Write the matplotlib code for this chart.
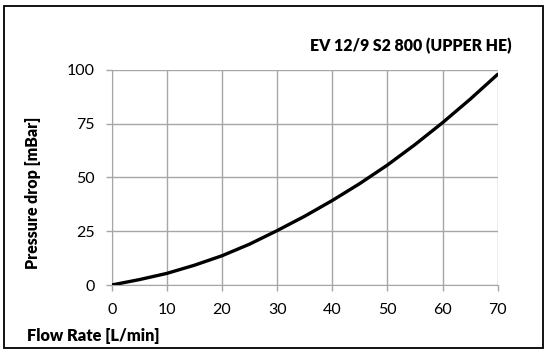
import matplotlib
matplotlib.use("Agg")
import matplotlib.pyplot as plt
from matplotlib.patches import Rectangle

# flow rate [L/min] vs pressure drop [mBar]
flow = [0, 5, 10, 15, 20, 25, 30, 35, 40, 45, 50, 55, 60, 65, 70]
dp = [0, 2.5, 5.4, 9.2, 13.6, 19.0, 25.3, 32.0, 39.3, 47.2, 55.8, 65.3, 75.5, 86.4, 98.0]

title = "EV 12/9 S2 800 (UPPER HE)"
xlabel = "Flow Rate [L/min]"
ylabel = "Pressure drop [mBar]"
xticks = [0, 10, 20, 30, 40, 50, 60, 70]
yticks = [0, 25, 50, 75, 100]

plt.rcParams['font.family'] = ['Lato', 'DejaVu Sans']

fig = plt.figure(figsize=(5.47, 3.58), dpi=100)
ax = fig.add_axes([0.2042, 0.2039, 0.7057, 0.6006])

grey = "#a6a6a6"
ax.plot(flow, dp, color="black", lw=2.4, solid_capstyle="round", zorder=3)

ax.set_xlim(0, 70)
ax.set_ylim(0, 100)
ax.set_xticks(xticks)
ax.set_yticks(yticks)
ax.grid(True, color=grey, lw=1.0)
ax.set_axisbelow(True)
for s in ax.spines.values():
    s.set_visible(False)
ax.spines['left'].set_visible(True)
ax.spines['bottom'].set_visible(True)
ax.spines['left'].set_color(grey)
ax.spines['bottom'].set_color(grey)
ax.tick_params(axis="both", colors=grey, length=4, width=1.0, labelsize=11.5,
               labelcolor="black")
ax.tick_params(axis="x", pad=9)
ax.tick_params(axis="y", pad=8)

fig.text(0.936, 0.8715, title, ha="right", va="center", fontsize=11.4, fontweight="heavy")
fig.text(0.049, 0.0615, xlabel, ha="left", va="center", fontsize=11.8, fontweight="heavy")
fig.text(0.060, 0.461, ylabel, ha="center", va="center", rotation=90,
         fontsize=11.4, fontweight="heavy")

fig.patches.append(Rectangle((0.008, 0.028), 0.984, 0.955, transform=fig.transFigure,
                             fill=False, edgecolor="black", lw=1.3))

fig.savefig("out.png", dpi=100)
